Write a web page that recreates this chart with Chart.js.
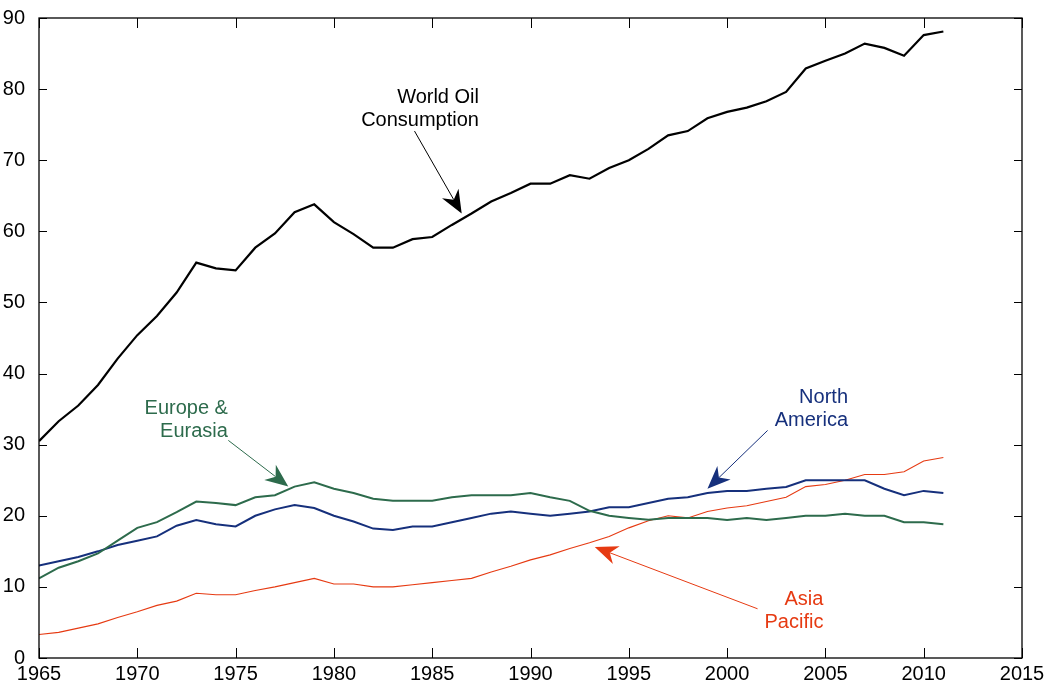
<!DOCTYPE html>
<html>
<head>
<meta charset="utf-8">
<title>Oil consumption by region</title>
<script src="https://cdn.jsdelivr.net/npm/chart.js@4.4.0/dist/chart.umd.min.js"></script>
<style>
  html, body { margin: 0; padding: 0; background: #fff; }
  #wrap { width: 1050px; height: 687px; position: relative; }
</style>
</head>
<body>
<div id="wrap"><canvas id="oil-chart"></canvas></div>
<script>
// values, million barrels per day
const years = [1965, 1966, 1967, 1968, 1969, 1970, 1971, 1972, 1973, 1974,
    1975, 1976, 1977, 1978, 1979, 1980, 1981, 1982, 1983, 1984,
    1985, 1986, 1987, 1988, 1989, 1990, 1991, 1992, 1993, 1994,
    1995, 1996, 1997, 1998, 1999, 2000, 2001, 2002, 2003, 2004,
    2005, 2006, 2007, 2008, 2009, 2010, 2011];

const world = [30.5, 33.3, 35.5, 38.4, 42.1, 45.4, 48.1, 51.4, 55.6, 54.8,
    54.5, 57.7, 59.7, 62.7, 63.8, 61.3, 59.6, 57.7, 57.7, 58.9,
    59.2, 60.9, 62.5, 64.2, 65.4, 66.7, 66.7, 67.9, 67.4, 68.9,
    70.0, 71.6, 73.5, 74.1, 75.9, 76.8, 77.4, 78.3, 79.6, 82.9,
    84.0, 85.0, 86.4, 85.8, 84.7, 87.6, 88.1];

const europe = [11.2, 12.7, 13.6, 14.7, 16.5, 18.3, 19.1, 20.5, 22.0, 21.8,
    21.5, 22.6, 22.9, 24.1, 24.7, 23.8, 23.2, 22.4, 22.1, 22.1,
    22.1, 22.6, 22.9, 22.9, 22.9, 23.2, 22.6, 22.1, 20.7, 20.0,
    19.7, 19.45, 19.7, 19.7, 19.7, 19.4, 19.7, 19.4, 19.7, 20.0,
    20.0, 20.3, 20.0, 20.0, 19.1, 19.1, 18.8];

const northAmerica = [13.0, 13.6, 14.2, 15.0, 15.9, 16.5, 17.1, 18.6, 19.4, 18.8,
    18.5, 20.0, 20.9, 21.5, 21.1, 20.0, 19.2, 18.2, 18.0, 18.5,
    18.5, 19.1, 19.7, 20.3, 20.6, 20.3, 20.0, 20.3, 20.6, 21.2,
    21.2, 21.8, 22.4, 22.6, 23.2, 23.5, 23.5, 23.8, 24.05, 25.0,
    25.0, 25.0, 25.0, 23.8, 22.9, 23.5, 23.2];

const asiaPacific = [3.3, 3.6, 4.2, 4.8, 5.7, 6.5, 7.4, 8.0, 9.1, 8.9,
    8.9, 9.5, 10.0, 10.6, 11.2, 10.4, 10.4, 10.0, 10.0, 10.3,
    10.6, 10.9, 11.2, 12.1, 12.9, 13.8, 14.5, 15.4, 16.2, 17.1,
    18.3, 19.3, 20.0, 19.7, 20.6, 21.1, 21.4, 22.0, 22.6, 24.1,
    24.4, 25.0, 25.8, 25.8, 26.2, 27.7, 28.2];

const xTicks = [1965, 1970, 1975, 1980, 1985, 1990, 1995, 2000, 2005, 2010, 2015];
const yTicks = [0, 10, 20, 30, 40, 50, 60, 70, 80, 90];

const FONT = "'Liberation Sans', Arial, Helvetica, sans-serif";
const GREEN = '#2d6b4c';
const BLUE = '#16307c';
const RED = '#e63a12';

// callouts in data units: text anchor (right edge, first baseline) and arrow tail -> tip
const callouts = [
    { lines: ['World Oil', 'Consumption'], color: '#000', at: [1987.38, 78.1], from: [1984.1, 74.1], to: [1986.5, 62.5] },
    { lines: ['Europe &', 'Eurasia'], color: GREEN, at: [1974.61, 34.33], from: [1974.63, 30.6], to: [1977.68, 24.13] },
    { lines: ['North', 'America'], color: BLUE, at: [2006.15, 35.8], from: [2002.06, 32.0], to: [1999.0, 23.8] },
    { lines: ['Asia', 'Pacific'], color: RED, at: [2004.9, 7.44], from: [2001.55, 6.92], to: [1993.27, 15.6] }
];

function series(values) {
    return years.map((yr, i) => ({ x: yr, y: values[i] }));
}

const frame = {
    id: 'frame',
    afterDraw(c) {
        const { ctx, chartArea: a, scales } = c;
        ctx.save();
        ctx.strokeStyle = '#000';
        ctx.lineWidth = 1.3;
        ctx.strokeRect(a.left, a.top, a.right - a.left, a.bottom - a.top);
        ctx.lineWidth = 1;
        ctx.beginPath();
        xTicks.forEach(v => {
            const px = Math.round(scales.x.getPixelForValue(v)) + 0.5;
            ctx.moveTo(px, a.bottom); ctx.lineTo(px, a.bottom - 10);
            ctx.moveTo(px, a.top); ctx.lineTo(px, a.top + 10);
        });
        yTicks.forEach(v => {
            const py = Math.round(scales.y.getPixelForValue(v)) + 0.5;
            ctx.moveTo(a.left, py); ctx.lineTo(a.left + 8, py);
            ctx.moveTo(a.right, py); ctx.lineTo(a.right - 8, py);
        });
        ctx.stroke();

        // callouts
        ctx.font = '20px ' + FONT;
        ctx.textAlign = 'right';
        ctx.textBaseline = 'alphabetic';
        callouts.forEach(co => {
            const tx = scales.x.getPixelForValue(co.at[0]);
            const ty = scales.y.getPixelForValue(co.at[1]);
            ctx.fillStyle = co.color;
            co.lines.forEach((s, i) => ctx.fillText(s, tx, ty + i * 23));

            const x0 = scales.x.getPixelForValue(co.from[0]);
            const y0 = scales.y.getPixelForValue(co.from[1]);
            const x1 = scales.x.getPixelForValue(co.to[0]);
            const y1 = scales.y.getPixelForValue(co.to[1]);
            const ang = Math.atan2(y1 - y0, x1 - x0);
            const len = 23, half = 9.5, notch = 16;
            const ux = Math.cos(ang), uy = Math.sin(ang);
            ctx.strokeStyle = co.color;
            ctx.lineWidth = 1;
            ctx.beginPath();
            ctx.moveTo(x0, y0);
            ctx.lineTo(x1 - ux * notch, y1 - uy * notch);
            ctx.stroke();
            ctx.beginPath();
            ctx.moveTo(x1, y1);
            ctx.lineTo(x1 - ux * len - uy * half, y1 - uy * len + ux * half);
            ctx.lineTo(x1 - ux * notch, y1 - uy * notch);
            ctx.lineTo(x1 - ux * len + uy * half, y1 - uy * len - ux * half);
            ctx.closePath();
            ctx.fill();
        });
        ctx.restore();
    }
};

const ctx = document.getElementById('oil-chart').getContext('2d');
const chart = new Chart(ctx, {
    type: 'line',
    data: {
        datasets: [
            { label: 'World Oil Consumption', data: series(world), borderColor: '#000', borderWidth: 2.2 },
            { label: 'Europe & Eurasia', data: series(europe), borderColor: GREEN, borderWidth: 2 },
            { label: 'North America', data: series(northAmerica), borderColor: BLUE, borderWidth: 2 },
            { label: 'Asia Pacific', data: series(asiaPacific), borderColor: RED, borderWidth: 1.1 }
        ]
    },
    options: {
        responsive: true,
        maintainAspectRatio: false,
        animation: false,
        elements: { point: { radius: 0 }, line: { tension: 0, fill: false } },
        layout: { padding: { left: 0, right: 28, top: 16, bottom: 0 } },
        plugins: { legend: { display: false }, tooltip: { enabled: false } },
        scales: {
            x: {
                type: 'linear', min: 1965, max: 2015,
                grid: { display: false },
                border: { display: false },
                afterFit: s => { s.height = 29; },
                afterBuildTicks: s => { s.ticks = xTicks.map(v => ({ value: v })); },
                ticks: { color: '#000', font: { family: FONT, size: 20 }, padding: -4, maxRotation: 0, autoSkip: false, callback: v => String(v) }
            },
            y: {
                min: 0, max: 90,
                grid: { display: false },
                border: { display: false },
                afterFit: s => { s.width = 39; },
                afterBuildTicks: s => { s.ticks = yTicks.map(v => ({ value: v })); },
                ticks: { color: '#000', font: { family: FONT, size: 20 }, padding: 6, callback: v => String(v) }
            }
        }
    },
    plugins: [frame]
});
</script>
</body>
</html>
